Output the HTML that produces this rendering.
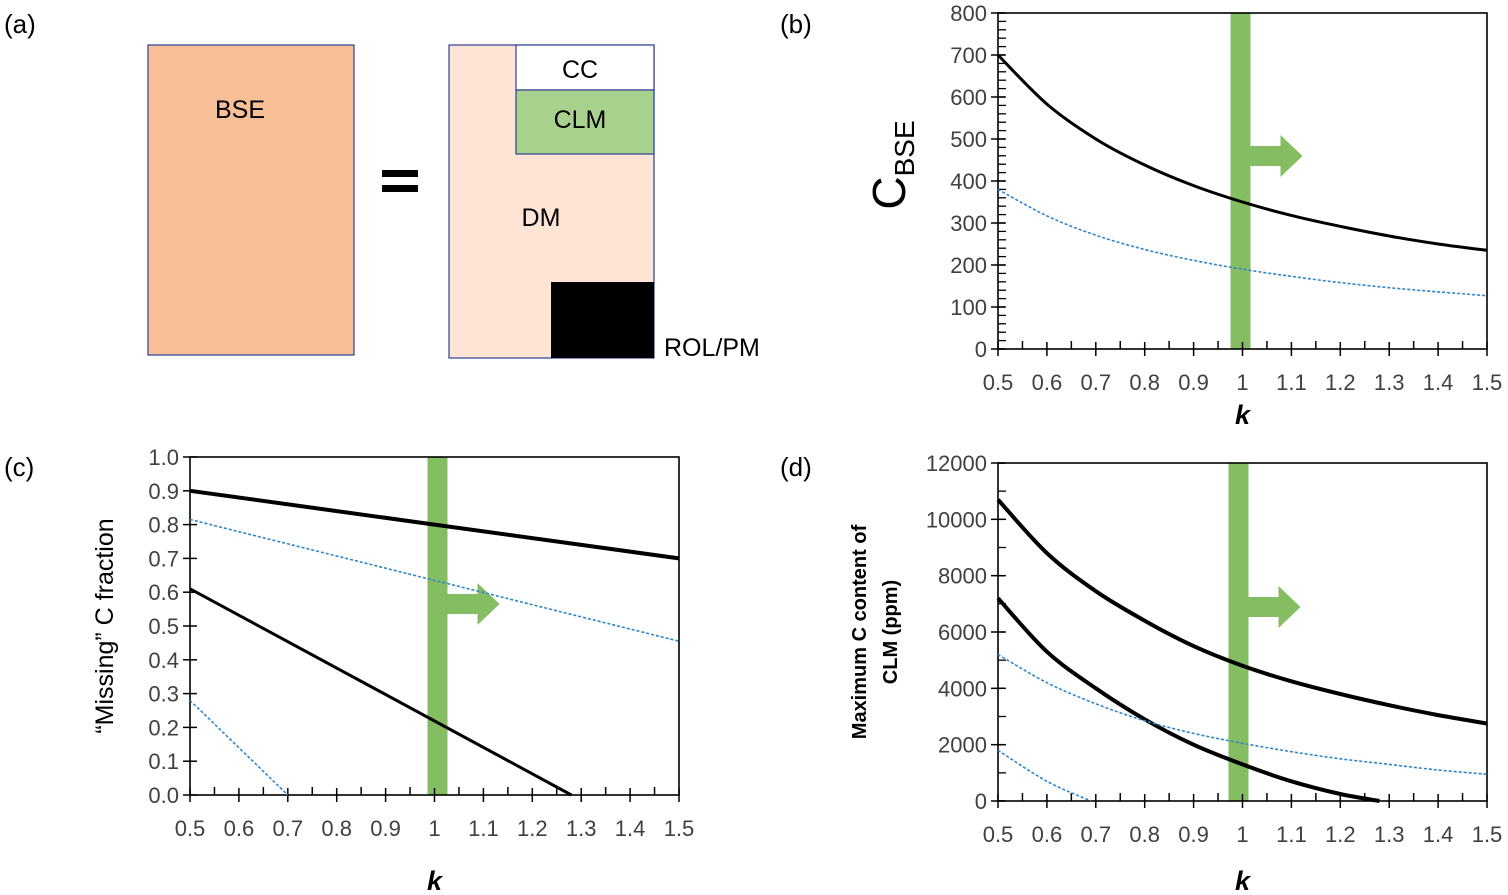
<!DOCTYPE html>
<html><head><meta charset="utf-8">
<style>
html,body{margin:0;padding:0;background:#fff;}
svg{display:block;font-family:"Liberation Sans",sans-serif;}
</style></head>
<body>
<svg id="fig" width="1508" height="895" viewBox="0 0 1508 895">
  <g>
    <text x="4" y="33" font-size="26" fill="#000">(a)</text>
    <rect x="148" y="45" width="206" height="310" fill="#f7bf98" stroke="#2f3f8f" stroke-width="1.2"/>
    <text x="240" y="118" font-size="25" text-anchor="middle">BSE</text>
    <rect x="382" y="170" width="36" height="7" fill="#000"/>
    <rect x="382" y="185" width="36" height="7" fill="#000"/>
    <rect x="449" y="45" width="205" height="313" fill="#fde4d5" stroke="#2f3f8f" stroke-width="1.2"/>
    <rect x="516" y="45" width="138" height="45" fill="#fff" stroke="#2f3f8f" stroke-width="1.2"/>
    <rect x="516" y="90" width="138" height="64" fill="#a9d18e" stroke="#2f3f8f" stroke-width="1.2"/>
    <rect x="551" y="282" width="103" height="76" fill="#000"/>
    <text x="580" y="78" font-size="25" text-anchor="middle">CC</text>
    <text x="580" y="128" font-size="25" text-anchor="middle">CLM</text>
    <text x="541" y="226" font-size="25" text-anchor="middle">DM</text>
    <text x="664" y="356" font-size="25">ROL/PM</text>
  </g>
  <text x="780" y="33" font-size="26">(b)</text>
  <text x="4" y="476" font-size="26">(c)</text>
  <text x="780" y="476" font-size="26">(d)</text>
  <text transform="translate(905,165) rotate(-90)" font-size="46" text-anchor="middle">C<tspan font-size="28" dy="9">BSE</tspan></text>
  <text transform="translate(113,626) rotate(-90)" font-size="25" text-anchor="middle">“Missing” C fraction</text>
  <text transform="translate(866,632) rotate(-90)" font-size="20" font-weight="bold" text-anchor="middle">Maximum C content of</text>
  <text transform="translate(897,632) rotate(-90)" font-size="20" font-weight="bold" text-anchor="middle">CLM (ppm)</text>
</svg>
<script>
// shared x data
const kVals = [0.5,0.6,0.7,0.8,0.9,1.0,1.1,1.2,1.3,1.4,1.5];
const xTickLabels = ["0.5","0.6","0.7","0.8","0.9","1","1.1","1.2","1.3","1.4","1.5"];
// panel b
const bBlack = [700,583,500,438,389,350,318,292,269,250,235];
const bBlue = [380,317,271,237,211,190,173,158,146,136,127];
const bYTicks = [0,100,200,300,400,500,600,700,800];
// panel c
const cKLine = [0.5,1.5];
const cBlackTop = [0.90,0.70];
const cBlueTop = [0.815,0.455];
const cKMid = [0.5,1.28];
const cBlackMid = [0.61,0.0];
const cKLow = [0.5,0.7];
const cBlueLow = [0.28,0.0];
const cYTicks = ["0.0","0.1","0.2","0.3","0.4","0.5","0.6","0.7","0.8","0.9","1.0"];
// panel d
const dBlackTop = [10700,8800,7450,6400,5500,4800,4250,3800,3400,3050,2750];
const dKMid = [0.5,0.6,0.7,0.8,0.9,1.0,1.1,1.2,1.28];
const dBlackMid = [7200,5300,4000,2900,2000,1300,700,250,0];
const dBlue = [5200,4200,3450,2850,2400,2050,1750,1500,1300,1100,950];
const dKLow = [0.5,0.6,0.69];
const dBlueLow = [1800,700,0];
const dYTicks = [0,2000,4000,6000,8000,10000,12000];

const svg = document.getElementById('fig');
const NS = 'http://www.w3.org/2000/svg';
function mk(tag, attrs, parent){
  const e = document.createElementNS(NS, tag);
  for (const k in attrs) e.setAttribute(k, attrs[k]);
  (parent||svg).appendChild(e);
  return e;
}
function smoothPath(P){
  let d = 'M'+P[0][0].toFixed(1)+','+P[0][1].toFixed(1);
  for (let i=0;i<P.length-1;i++){
    const p0 = P[i-1]||P[i], p1 = P[i], p2 = P[i+1], p3 = P[i+2]||P[i+1];
    const c1 = [p1[0]+(p2[0]-p0[0])/6, p1[1]+(p2[1]-p0[1])/6];
    const c2 = [p2[0]-(p3[0]-p1[0])/6, p2[1]-(p3[1]-p1[1])/6];
    d += ' C'+c1.map(v=>v.toFixed(1)).join(',')+' '+c2.map(v=>v.toFixed(1)).join(',')+' '+p2[0].toFixed(1)+','+p2[1].toFixed(1);
  }
  return d;
}
function panel(cfg){
  const g = mk('g', {});
  
  
  const sx = v => cfg.x0 + (v-0.5)/(1.0)*(cfg.x1-cfg.x0);
  const sy = v => cfg.y1 - (v-cfg.ymin)/(cfg.ymax-cfg.ymin)*(cfg.y1-cfg.y0);
  const bar = mk('rect', {x: sx(1)-cfg.barOff, y: cfg.y0, width: 20, height: cfg.y1-cfg.y0, fill:'#85bd63'}, g);
  
  
  const bx = sx(1)-cfg.barOff+20, ay = cfg.arrowY;
  const arr = mk('polygon', {points: `${bx},${ay-10} ${bx+30},${ay-10} ${bx+30},${ay-21} ${bx+52},${ay} ${bx+30},${ay+21} ${bx+30},${ay+10} ${bx},${ay+10}`, fill:'#85bd63'}, g);
  
  
  const fr = mk('rect', {x: cfg.x0, y: cfg.y0, width: cfg.x1-cfg.x0, height: cfg.y1-cfg.y0, fill:'none', stroke:'#000', 'stroke-width':1.6}, g);
  
  
  for (let i=0;i<=20;i++){
    const v = 0.5 + i*0.05, X = sx(v);
    const major = i%2===0;
    const t = mk('line', {x1:X, x2:X, y1: major? cfg.y1+7 : cfg.y1, y2: major? cfg.y1-7 : cfg.y1-8, stroke:'#000', 'stroke-width':1.5}, g);
    
    
  }
  xTickLabels.forEach((lab,i)=>{
    const t = mk('text', {x: sx(kVals[i]), y: cfg.y1+41, 'font-size':22, fill:'#404040', 'text-anchor':'middle'}, g);
    t.textContent = lab;
    
    
  });
  const kt = mk('text', {x: sx(1), y: cfg.kY, 'font-size':27, 'font-weight':'bold', 'font-style':'italic', 'text-anchor':'middle'}, g);
  kt.textContent = 'k';
  
  
  cfg.yTicks.forEach(lab=>{
    const v = parseFloat(lab), Y = sy(v);
    const t = mk('line', {x1: cfg.x0-7, x2: cfg.x0+7, y1:Y, y2:Y, stroke:'#000', 'stroke-width':1.5}, g);
    
    
    const l = mk('text', {x: cfg.x0-11, y: Y+8, 'font-size':22, fill:'#404040', 'text-anchor':'end'}, g);
    l.textContent = lab;
    
    
  });
  if (cfg.yMinor){
    for (let v=cfg.ymin; v<=cfg.ymax+1e-9; v+=cfg.yMinor){
      const Y = sy(v);
      const t = mk('line', {x1: cfg.x0, x2: cfg.x0+8, y1:Y, y2:Y, stroke:'#000', 'stroke-width':1.3}, g);
      
      
    }
  }
  cfg.series.forEach(s=>{
    const P = s.xs.map((x,i)=>[sx(x), sy(s.ys[i])]);
    const p = mk('path', {d: smoothPath(P), fill:'none', stroke: s.blue?'#2e86c9':'#000', 'stroke-width': s.blue?1.6:s.w, 'stroke-dasharray': s.blue?'3,2':'none', 'stroke-linejoin':'round'}, g);
    
    
  });
}
panel({name:'panel-b', x0:998, x1:1487, y0:13, y1:349, ymin:0, ymax:800, yTicks:bYTicks.map(String), yMinor:20, barOff:12, arrowY:156, kY:424,
  series:[{name:'cbse-upper-curve', xs:kVals, ys:bBlack, w:3},{name:'cbse-lower-curve', xs:kVals, ys:bBlue, blue:true}]});
panel({name:'panel-c', x0:190, x1:679, y0:457, y1:795, ymin:0, ymax:1, yTicks:cYTicks, barOff:7, arrowY:604, kY:890,
  series:[{name:'missing-c-upper-black', xs:cKLine, ys:cBlackTop, w:4},{name:'missing-c-upper-blue', xs:cKLine, ys:cBlueTop, blue:true},
          {name:'missing-c-lower-black', xs:cKMid, ys:cBlackMid, w:3},{name:'missing-c-lower-blue', xs:cKLow, ys:cBlueLow, blue:true}]});
panel({name:'panel-d', x0:998, x1:1487, y0:463, y1:801, ymin:0, ymax:12000, yTicks:dYTicks.map(String), yMinor:1000, barOff:14, arrowY:607, kY:890,
  series:[{name:'clm-upper-black', xs:kVals, ys:dBlackTop, w:4},{name:'clm-lower-black', xs:dKMid, ys:dBlackMid, w:4},
          {name:'clm-upper-blue', xs:kVals, ys:dBlue, blue:true},{name:'clm-lower-blue', xs:dKLow, ys:dBlueLow, blue:true}]});
</script>
</body></html>
